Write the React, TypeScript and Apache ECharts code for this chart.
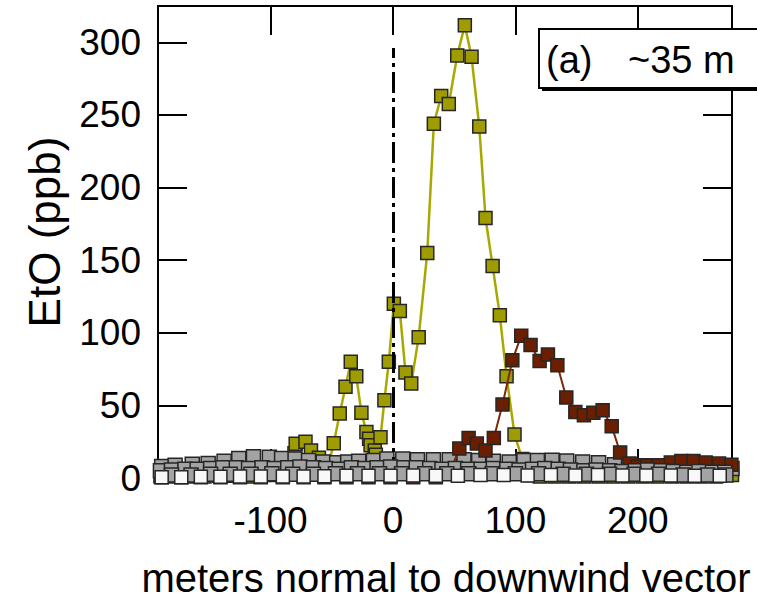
import React, { useEffect, useRef } from "react";
import * as echarts from "echarts";

// ---- data ----
const xTicks = [-100, 0, 100, 200];
const yTicks = [0, 50, 100, 150, 200, 250, 300];

const yellowX = [-190, -178, -166, -154, -142, -130, -118, -106, -95, -88,
  -85, -80.5, -79.5, -71.5, -67, -60.5, -54,
  -48.4, -43.5, -38.8, -34.5, -30, -25.8, -21.7, -19.5, -18.3, -14.9, -14, -10.2, -7, -3.4,
  0.7, 5.6, 10.2, 14.9, 21, 28, 33.4, 39.4, 45.6, 52.5, 58.7, 64.2, 70.5, 75.6, 81.4, 87.3, 92.8, 99.3, 105.6, 112,
  120, 132, 144, 156, 168, 180, 192, 204, 216, 228, 240, 252, 264, 277];
const yellowY = [1, 1, 1, 1, 1.5, 1.5, 1, 2, 2, 3,
  6, 17, 23.5, 25, 19, 14, 4,
  24, 44.4, 62.8, 80, 70, 45, 31.7, 27, 22.5, 19, 16, 28, 53.6, 80,
  120, 115, 72.7, 65, 97, 155, 244, 263, 257.5, 291, 311.7, 290, 242, 179, 146, 112, 70, 30, 13, 2,
  1, 1, 1, 1, 1, 1, 1, 1, 1, 1, 1, 1, 1, 2];

const brownX = [-189, -173, -157, -141, -125, -108, -90, -73, -56, -38, -20, -2, 16.5, 35,
  47, 54.2, 61.8, 68.5, 75.6, 82.4, 89.5, 97.5, 104.8, 112.4, 119.8, 126.6, 134.3, 141.6, 149, 156, 163.7, 171.3, 178.7,
  185.6, 193.2, 200, 208, 217, 227, 235.6, 245.5, 255.5, 266.4, 276.5];
const brownY = [0.5, 0.5, 0.5, 0.5, 0.5, 0.5, 0.5, 0.5, 0.5, 0.5, 0.5, 0.5, 0.5, 0.5,
  5, 20.3, 27.5, 23.7, 19, 27.6, 50.6, 81, 98, 91.5, 80.5, 85, 77.7, 55.4, 45.5, 43.2, 45, 46.7, 35.7,
  17.6, 10, 8, 8.5, 8.8, 10.6, 11.7, 11.7, 10.6, 9.9, 9.2];

const grayAX = [-189, -178, -164, -151, -138, -126, -114, -101, -91, -80, -69, -57, -46, -37, -28, -16, -5,
  8, 20, 33, 46, 58, 70, 82, 95, 107, 118, 130, 142, 155, 168, 181, 194, 206, 218, 230, 243, 255, 267, 277];
const grayAY = [8, 8.8, 9.5, 10, 11.5, 13.5, 14.6, 14.3, 13.5, 13, 12, 11, 10.5, 11, 11.5, 12, 13,
  13, 12.5, 12.5, 12.5, 12.5, 12, 11.6, 11, 12, 12, 12.2, 11.7, 11, 10.5, 9.2, 8.8, 8.5, 8, 7.8, 7.5, 7.2, 7, 6.5];

const grayBX = [-190, -181, -170, -160, -149, -139, -128, -118, -107, -97, -86, -76, -65, -55, -44, -34, -23, -13, -2, 9,
  19, 30, 40, 51, 61, 72, 82, 93, 103, 114, 124, 135, 145, 156, 166, 177, 187, 198, 208, 219, 229, 240, 250, 261, 271];
const grayBY = [5, 5.5, 6, 6, 6.5, 7, 7, 6.5, 7, 6.5, 7, 7.5, 7, 6.5, 6, 7, 6.5, 7, 7.5, 7,
  7, 6.5, 6, 6.5, 6, 6, 6.5, 6, 5.5, 6, 6.5, 6, 5.5, 5, 5.5, 5, 4.5, 5, 5.5, 5, 4.5, 4, 4.5, 4, 4];

const grayCX = [-181, -165, -149, -133, -116, -99, -82, -65, -47, -29, -11, 7, 26, 44, 62, 81, 100, 119, 139, 158, 177, 197, 217, 237, 257, 272];
const grayCY = [2, 2, 2.5, 2.5, 2.5, 3, 2.5, 2.5, 3, 3, 3, 3, 3, 3, 3, 3, 3, 3, 2.5, 2.5, 2.5, 2.5, 2.5, 2, 2, 2];

const whiteX = [-189, -173, -157, -141, -125, -108, -90, -73, -56, -38, -20, -2, 16.5, 35, 53, 71.5, 90.5, 110, 129, 149, 167.5, 187.5, 207, 227, 246.5, 267];
const whiteY = [0.5, 0.5, 0.8, 0.8, 1, 1, 1, 1, 1.2, 1.5, 1.5, 1.5, 1.8, 1.5, 1.5, 2, 2, 1.8, 2, 1.8, 2, 1.8, 1.8, 1.8, 1.5, 1.5];

const zip = (xs: number[], ys: number[]) => xs.map((x, i) => [x, ys[i]]);

const FONT = "Liberation Sans";

export default function App() {
  const ref = useRef<HTMLDivElement>(null);
  useEffect(() => {
    if (!ref.current) return;
    const chart = echarts.init(ref.current, undefined, { renderer: "svg" });
    const axisLine = { onZero: false, lineStyle: { color: "#000", width: 2 } };
    const tickX = { inside: true, length: 29, customValues: xTicks, lineStyle: { color: "#000", width: 2 } };
    const tickY = { inside: true, length: 29, customValues: yTicks, lineStyle: { color: "#000", width: 2 } };
    const border = "#262626";
    chart.setOption({
      animation: false,
      backgroundColor: "#fff",
      grid: { left: 158, right: 25, top: 6, bottom: 128 },
      xAxis: [
        {
          type: "value", min: -192, max: 277, position: "bottom",
          axisLine, axisTick: tickX, splitLine: { show: false },
          axisLabel: { customValues: xTicks, fontSize: 37, color: "#000", fontFamily: FONT, margin: 24 },
        },
        {
          type: "value", min: -192, max: 277, position: "top",
          axisLine, axisTick: tickX, splitLine: { show: false }, axisLabel: { show: false },
        },
      ],
      yAxis: [
        {
          type: "value", min: 0, max: 325, position: "left",
          axisLine, axisTick: tickY, splitLine: { show: false },
          axisLabel: { customValues: yTicks, fontSize: 37, color: "#000", fontFamily: FONT, margin: 17 },
        },
        {
          type: "value", min: 0, max: 325, position: "right",
          axisLine, axisTick: tickY, splitLine: { show: false }, axisLabel: { show: false },
        },
      ],
      series: [
        {
          type: "line", data: [], z: 1, silent: true,
          markLine: {
            silent: true, symbol: "none", label: { show: false },
            lineStyle: { color: "#000", width: 3, type: [21, 5, 4, 5] },
            data: [[{ coord: [0, 0] }, { coord: [0, 296] }]],
          },
        },
        {
          type: "line", data: zip(yellowX, yellowY), z: 2, clip: false,
          symbol: "rect", symbolSize: 13, showAllSymbol: true,
          lineStyle: { color: "#a8a800", width: 2.5 },
          itemStyle: { color: "#9e9c00", borderColor: border, borderWidth: 1.5 },
          emphasis: { disabled: true },
        },
        {
          type: "scatter", data: zip(grayAX, grayAY), z: 3, clip: false,
          symbol: "rect", symbolSize: 14,
          itemStyle: { color: "#a3a3a3", borderColor: border, borderWidth: 1.5, opacity: 1 },
          emphasis: { disabled: true },
        },
        {
          type: "line", data: zip(brownX, brownY), z: 4, clip: false,
          symbol: "rect", symbolSize: 13, showAllSymbol: true,
          lineStyle: { color: "#7a2a08", width: 2 },
          itemStyle: { color: "#6b1e00", borderColor: border, borderWidth: 1.5 },
          emphasis: { disabled: true },
        },
        {
          type: "scatter", data: zip(grayBX, grayBY), z: 5, clip: false,
          symbol: "rect", symbolSize: 14,
          itemStyle: { color: "#a3a3a3", borderColor: border, borderWidth: 1.5, opacity: 1 },
          emphasis: { disabled: true },
        },
        {
          type: "scatter", data: zip(grayCX, grayCY), z: 6, clip: false,
          symbol: "rect", symbolSize: 14,
          itemStyle: { color: "#a3a3a3", borderColor: border, borderWidth: 1.5, opacity: 1 },
          emphasis: { disabled: true },
        },
        {
          type: "scatter", data: zip(whiteX, whiteY), z: 7, clip: false,
          symbol: "rect", symbolSize: 13,
          itemStyle: { color: "#f8f8f8", borderColor: border, borderWidth: 1.5, opacity: 1 },
          emphasis: { disabled: true },
        },
      ],
      graphic: [
        { type: "rect", z: 100, shape: { x: 542, y: 32, width: 240, height: 59 }, style: { fill: "#000" } },
        { type: "rect", z: 101, shape: { x: 539, y: 29, width: 240, height: 59 }, style: { fill: "#fff", stroke: "#000", lineWidth: 2 } },
        { type: "text", z: 102, x: 546, y: 60, style: { text: "(a)", fontSize: 38, fontFamily: FONT, fill: "#000", verticalAlign: "middle", align: "left" } },
        { type: "text", z: 102, x: 628, y: 60, style: { text: "~35 m", fontSize: 38, fontFamily: FONT, fill: "#000", verticalAlign: "middle", align: "left" } },
        { type: "text", z: 102, x: 446, y: 578, style: { text: "meters normal to downwind vector", fontSize: 40, fontFamily: FONT, fill: "#000", verticalAlign: "middle", align: "center" } },
        { type: "text", z: 102, x: 44, y: 232, rotation: Math.PI / 2, style: { text: "EtO (ppb)", fontSize: 44, fontFamily: FONT, fill: "#000", verticalAlign: "middle", align: "center" } },
      ],
    });
    return () => chart.dispose();
  }, []);
  return <div ref={ref} style={{ position: "absolute", left: 0, top: 0, width: 757, height: 606 }} />;
}
